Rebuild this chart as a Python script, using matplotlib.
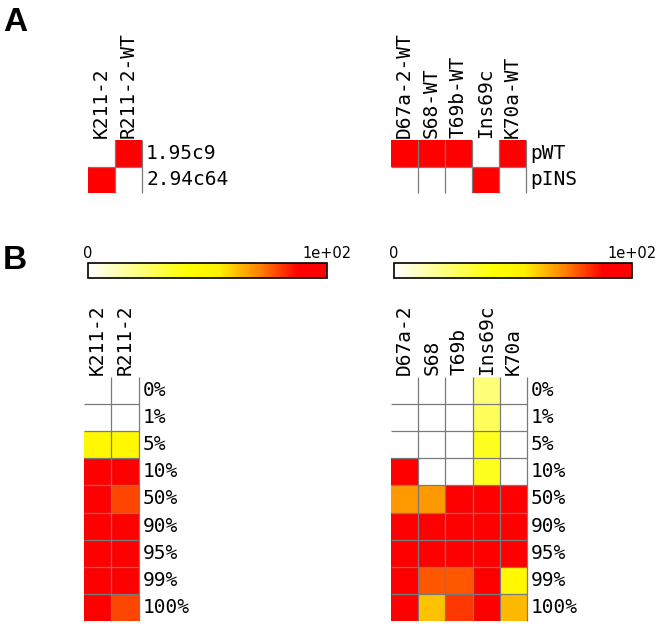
import matplotlib
matplotlib.use("Agg")
import matplotlib.pyplot as plt
import numpy as np
from matplotlib.colors import LinearSegmentedColormap, ListedColormap, Normalize
from matplotlib.cm import ScalarMappable

# --- data ---------------------------------------------------------------
a_left_cols = ["K211-2", "R211-2-WT"]
a_left_rows = ["1.95c9", "2.94c64"]
a_left_vals = [[0, 1],
               [1, 0]]

a_right_cols = ["D67a-2-WT", "S68-WT", "T69b-WT", "Ins69c", "K70a-WT"]
a_right_rows = ["pWT", "pINS"]
a_right_vals = [[1, 1, 1, 0, 1],
                [0, 0, 0, 1, 0]]

pct_rows = ["0%", "1%", "5%", "10%", "50%", "90%", "95%", "99%", "100%"]

b_left_cols = ["K211-2", "R211-2"]
b_left_vals = [[0, 0],
               [0, 0],
               [48, 48],
               [100, 100],
               [100, 79],
               [100, 100],
               [100, 100],
               [100, 100],
               [100, 79]]

b_right_cols = ["D67a-2", "S68", "T69b", "Ins69c", "K70a"]
b_right_vals = [[0, 0, 0, 22, 0],
                [0, 0, 0, 27, 0],
                [0, 0, 0, 37, 0],
                [100, 0, 0, 37, 0],
                [68, 68, 100, 100, 100],
                [100, 100, 100, 100, 100],
                [100, 100, 100, 100, 100],
                [100, 77, 77, 100, 48],
                [100, 62, 81, 100, 63]]

# --- styling ------------------------------------------------------------
W, H = 660, 629
MONO = "DejaVu Sans Mono"
LBL_FS = 14
GRID_C = "#7a7a7a"

heat = LinearSegmentedColormap.from_list(
    "heat", [(0.0, "#ffffff"), (0.42, "#ffff00"), (0.55, "#fff000"),
             (0.72, "#ff8000"), (0.88, "#ff0000"), (1.0, "#ff0000")])
binary = ListedColormap(["#ffffff", "#ff0000"])

fig = plt.figure(figsize=(W / 100, H / 100), dpi=100)


def px_axes(x0, y0, x1, y1):
    return fig.add_axes([x0 / W, 1 - y1 / H, (x1 - x0) / W, (y1 - y0) / H])


def grid_map(box, vals, cols, rows, cmap, norm):
    ax = px_axes(*box)
    vals = np.asarray(vals, dtype=float)
    nr, nc = vals.shape
    ax.pcolormesh(np.arange(nc + 1), np.arange(nr + 1), vals,
                  cmap=cmap, norm=norm)
    ax.set_xlim(0, nc)
    ax.set_ylim(nr, 0)
    ax.axis("off")
    # internal lines plus right border, no top / left border
    for i in range(1, nc + 1):
        ax.vlines(i, 0, nr, color=GRID_C, lw=0.9, clip_on=False, zorder=3)
    for j in range(1, nr):
        ax.hlines(j, 0, nc, color=GRID_C, lw=0.9, clip_on=False, zorder=3)
    for i, c in enumerate(cols):
        ax.text(i + 0.5, -0.08, c, rotation=90, ha="center", va="bottom",
                family=MONO, fontsize=LBL_FS)
    for j, r in enumerate(rows):
        ax.text(nc + 0.15, j + 0.5, r, ha="left", va="center",
                family=MONO, fontsize=LBL_FS)
    return ax


def color_bar(box, norm):
    cax = px_axes(*box)
    cb = fig.colorbar(ScalarMappable(norm=norm, cmap=heat), cax=cax,
                      orientation="horizontal")
    cb.set_ticks([])
    cb.outline.set_linewidth(1.2)
    cb.outline.set_edgecolor("black")
    cax.text(0, 1.15, "0", transform=cax.transAxes, ha="center",
             va="bottom", fontsize=10.5)
    cax.text(1, 1.15, "1e+02", transform=cax.transAxes, ha="center",
             va="bottom", fontsize=10.5)


bin_norm = Normalize(0, 1)
pct_norm = Normalize(0, 100)

# panel A
grid_map((88, 140, 142, 193), a_left_vals, a_left_cols, a_left_rows,
         binary, bin_norm)
grid_map((391, 140, 526, 193), a_right_vals, a_right_cols, a_right_rows,
         binary, bin_norm)

# panel B
color_bar((88, 263, 327, 278), pct_norm)
color_bar((394, 263, 632, 278), pct_norm)
grid_map((84, 377, 139, 621), b_left_vals, b_left_cols, pct_rows,
         heat, pct_norm)
grid_map((391, 377, 527, 621), b_right_vals, b_right_cols, pct_rows,
         heat, pct_norm)

fig.text(3 / W, 1 - 7 / H, "A", ha="left", va="top", fontsize=24,
         fontweight="bold", family="Liberation Sans")
fig.text(3 / W, 1 - 245 / H, "B", ha="left", va="top", fontsize=24,
         fontweight="bold", family="Liberation Sans")

fig.savefig("out.png", dpi=100)
